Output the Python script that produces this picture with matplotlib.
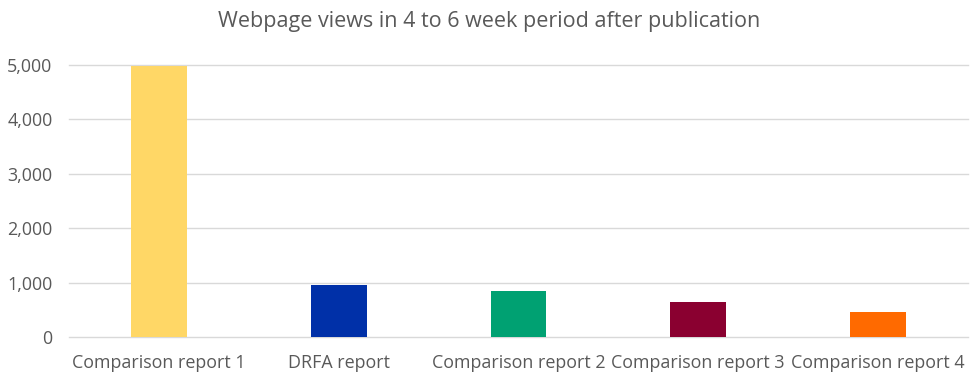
import matplotlib.pyplot as plt
from matplotlib.ticker import FuncFormatter

plt.rcParams['font.family'] = ['Open Sans', 'DejaVu Sans']

categories = ["Comparison report 1", "DRFA report", "Comparison report 2",
              "Comparison report 3", "Comparison report 4"]
views = [4990, 960, 840, 640, 460]
colors = ["#FFD766", "#0030A8", "#00A172", "#8A0030", "#FF6A00"]

text_color = "#595959"

fig = plt.figure(figsize=(9.78, 3.81), dpi=100)
ax = fig.add_axes([0.0706, 0.1155, 0.919, 0.714])

x = range(len(categories))
ax.bar(x, views, width=0.31, color=colors, zorder=3)

ax.set_xlim(-0.5, len(categories) - 0.5)
ax.set_ylim(0, 5000)
ax.set_yticks(range(0, 5001, 1000))
ax.yaxis.set_major_formatter(FuncFormatter(lambda v, p: f"{int(v):,}"))
ax.set_xticks(list(x))
ax.set_xticklabels(categories)

ax.grid(axis="y", color="#D9D9D9", linewidth=1, zorder=0, clip_on=False)
for s in ax.spines.values():
    s.set_visible(False)
ax.tick_params(axis="both", length=0, labelsize=12.9, labelcolor=text_color)
ax.tick_params(axis="x", pad=12)
ax.tick_params(axis="y", pad=12)

fig.suptitle("Webpage views in 4 to 6 week period after publication",
             y=0.97, fontsize=15.5, color=text_color)

fig.savefig("out.png", dpi=100)
